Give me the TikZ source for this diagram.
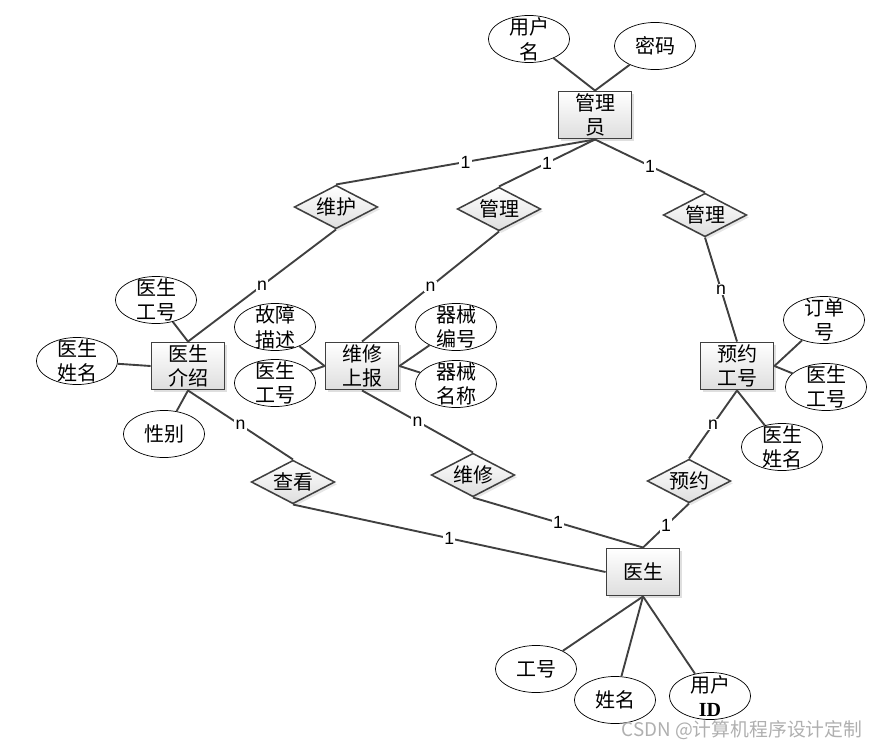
\documentclass[tikz,border=0pt]{standalone}
\usepackage{fontspec}
\setmainfont{Liberation Sans}
\newfontfamily\cjk{Noto Sans CJK SC}
\newfontfamily\idfont{Liberation Serif}
\usepackage{xcolor}
\definecolor{erline}{RGB}{64,64,64}
\definecolor{erfill}{RGB}{222,222,222}
\definecolor{ermark}{RGB}{175,175,175}
\usepackage{tikz}
\usetikzlibrary{shapes.geometric, shadows}

\begin{document}
\begin{tikzpicture}[x=0.85pt, y=-0.85pt,
  entity/.style={rectangle, draw=erline, line width=1.6pt, top color=white, bottom color=erfill,
    minimum width=62pt, minimum height=40pt, inner sep=1pt, align=center,
    font=\cjk\fontsize{17}{21}\selectfont,
    drop shadow={shadow xshift=2pt, shadow yshift=-2pt, opacity=0.25}},
  relation/.style={diamond, draw=erline, line width=1.3pt, top color=white, bottom color=erfill,
    minimum width=71pt, minimum height=37pt, inner sep=0pt, shape aspect=2,
    font=\cjk\fontsize{17}{18}\selectfont,
    drop shadow={shadow xshift=2pt, shadow yshift=-2pt, opacity=0.2}},
  attrtext/.style={align=center, inner sep=0pt, font=\cjk\fontsize{17}{21}\selectfont},
  attr/.style={ellipse, draw=black, line width=0.6pt, fill=white, minimum width=69pt,
    minimum height=40pt, inner sep=0pt, label={[attrtext]center:#1}},
  link/.style={draw=erline, line width=1.6pt},
  card/.style={fill=white, inner sep=1pt, font=\fontsize{15}{15}\selectfont}
]
  \path[use as bounding box] (0,0) rectangle (882,748);

  % --- entities ---
  \node[entity] (admin) at (595,115) {管理\\员};
  \node[entity] (intro) at (188,366) {医生\\介绍};
  \node[entity] (report) at (362,366) {维修\\上报};
  \node[entity] (booking) at (737,366) {预约\\工号};
  \node[entity] (doctor) at (643,572) {医生};

  % --- relations ---
  \node[relation] (keep) at (336,207) {维护};
  \node[relation] (manageA) at (499,209) {管理};
  \node[relation] (manageB) at (705,215) {管理};
  \node[relation] (view) at (293,482) {查看};
  \node[relation] (repair) at (473,475) {维修};
  \node[relation] (reserve) at (689,481) {预约};

  % --- attributes ---
  \node[attr={用户\\名}] (adminuser) at (529,39) {};
  \node[attr={密码}] (adminpwd) at (655,46) {};
  \node[attr={医生\\工号}] (introid) at (156,300) {};
  \node[attr={医生\\姓名}] (introname) at (77,361) {};
  \node[attr={性别}] (introsex) at (164,434) {};
  \node[attr={故障\\描述}] (reportfault) at (275,327) {};
  \node[attr={医生\\工号}] (reportid) at (275,383) {};
  \node[attr={器械\\编号}] (reportno) at (456,327) {};
  \node[attr={器械\\名称}] (reportname) at (456,384) {};
  \node[attr={订单\\号}] (bookorder) at (824,320) {};
  \node[attr={医生\\工号}] (bookid) at (826,387) {};
  \node[attr={医生\\姓名}] (bookname) at (782,447) {};
  \node[attr={工号}] (docid) at (536,669) {};
  \node[attr={姓名}] (docname) at (615,700) {};
  \node[attr={用户\\{\idfont\bfseries ID}}] (docuser) at (710,696) {};

  % --- attribute links ---
  \draw[link] (adminuser) -- (admin.north);
  \draw[link] (adminpwd) -- (admin.north);
  \draw[link] (introid) -- (intro.north);
  \draw[link] (introname) -- (intro.west);
  \draw[link] (introsex) -- (intro.south);
  \draw[link] (reportfault) -- (report.west);
  \draw[link] (reportid) -- (report.west);
  \draw[link] (reportno) -- (report.east);
  \draw[link] (reportname) -- (report.east);
  \draw[link] (bookorder) -- (booking.east);
  \draw[link] (bookid) -- (booking.east);
  \draw[link] (bookname) -- (booking.south);
  \draw[link] (docid) -- (doctor.south);
  \draw[link] (docname) -- (doctor.south);
  \draw[link] (docuser) -- (doctor.south);

  % --- relation links ---
  \draw[link] (admin.south) -- node[card] {1} (keep.north);
  \draw[link] (admin.south) -- node[card] {1} (manageA.north);
  \draw[link] (admin.south) -- node[card] {1} (manageB.north);
  \draw[link] (keep.south) -- node[card] {n} (intro.north);
  \draw[link] (manageA.south) -- node[card] {n} (report.north);
  \draw[link] (manageB.south) -- node[card] {n} (booking.north);
  \draw[link] (intro.south) -- node[card] {n} (view.north);
  \draw[link] (report.south) -- node[card] {n} (repair.north);
  \draw[link] (booking.south) -- node[card] {n} (reserve.north);
  \draw[link] (view.south) -- node[card] {1} (doctor.west);
  \draw[link] (repair.south) -- node[card] {1} (doctor.north);
  \draw[link] (reserve.south) -- node[card] {1} (doctor.north);

  \node[font=\cjk\fontsize{16}{16}\selectfont, text=ermark] (mark) at (742,730) {CSDN @计算机程序设计定制};
\end{tikzpicture}
\end{document}
